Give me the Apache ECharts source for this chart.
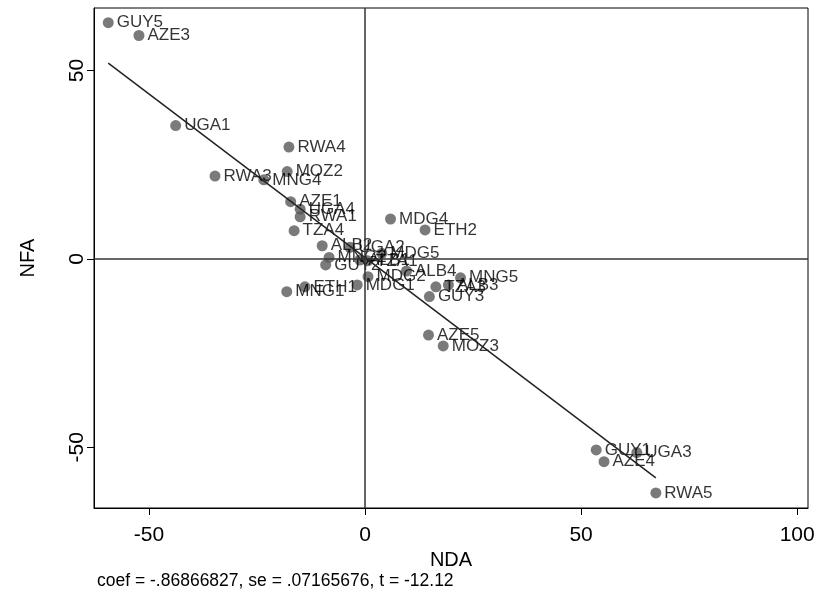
<!DOCTYPE html>
<html><head><meta charset="utf-8">
<script src="https://cdn.jsdelivr.net/npm/echarts@6/dist/echarts.min.js"></script>
<style>html,body{margin:0;padding:0;background:#fff}#c{width:819px;height:597px}</style>
</head><body><div id="c"></div>
<script>
const labels = ["GUY5","AZE3","UGA1","RWA4","MOZ2","RWA3","MNG4","AZE1","UGA4","RWA1","TZA4","MDG4","ETH2","ALB2","UGA2","MNG2","GUY2","ALB1","TZA1","MDG5","ALB4","MDG2","MDG1","ETH1","MNG1","GUY3","TZA3","ALB3","MNG5","AZE5","MOZ3","GUY1","AZE4","UGA3","RWA5"];
const nda = [-59.4,-52.3,-43.8,-17.6,-18.0,-34.7,-23.4,-17.2,-15.0,-15.0,-16.4,5.9,13.9,-9.9,-3.5,-8.3,-9.1,-1.2,0.6,3.9,9.6,0.7,-1.8,-13.9,-18.1,14.9,16.4,19.3,22.1,14.7,18.1,53.5,55.3,62.9,67.3];
const nfa = [62.7,59.3,35.4,29.7,23.2,22.0,21.0,15.2,13.2,11.2,7.5,10.6,7.7,3.5,3.1,0.4,-1.6,-0.3,-0.5,1.5,-3.2,-4.7,-6.9,-7.4,-8.7,-10.0,-7.4,-6.9,-5.0,-20.2,-23.1,-50.7,-53.8,-51.4,-62.1];
const xTicks = [-50, 0, 50, 100];
const yTicks = [-50, 0, 50];
const coef = -0.86866827, intercept = 0.35;
const noteText = "coef = -.86866827, se = .07165676, t = -12.12";

const pts = nda.map((x, i) => [x, nfa[i], labels[i]]);
const xmin = Math.min(...nda), xmax = Math.max(...nda);
const fit = [[xmin, intercept + coef * xmin], [xmax, intercept + coef * xmax]];
const FONT = "Liberation Sans, Arial, sans-serif";

const chart = echarts.init(document.getElementById('c'));
chart.setOption({
  animation: false,
  grid: {left: 94, right: 11, top: 8, bottom: 89, show: true, borderColor: '#000', borderWidth: 1, containLabel: false},
  xAxis: {
    type: 'value', min: -62.7, max: 102.5,
    name: 'NDA', nameLocation: 'middle', nameGap: 37,
    nameTextStyle: {fontFamily: FONT, fontSize: 20, color: '#000'},
    axisLine: {show: true, onZero: false, lineStyle: {color: '#000', width: 1}},
    axisTick: {show: true, length: 7, customValues: xTicks, lineStyle: {color: '#000'}},
    axisLabel: {customValues: xTicks, fontFamily: FONT, fontSize: 21, color: '#000', margin: 17},
    splitLine: {show: false}
  },
  yAxis: {
    type: 'value', min: -66.1, max: 66.6,
    name: 'NFA', nameLocation: 'middle', nameGap: 56, nameRotate: 90,
    nameTextStyle: {fontFamily: FONT, fontSize: 20, color: '#000'},
    axisLine: {show: true, onZero: false, lineStyle: {color: '#000', width: 1}},
    axisTick: {show: true, length: 7, customValues: yTicks, lineStyle: {color: '#000'}},
    axisLabel: {customValues: yTicks, rotate: 90, fontFamily: FONT, fontSize: 21, color: '#000', margin: 6},
    splitLine: {show: false}
  },
  series: [
    {
      type: 'scatter', data: pts, symbolSize: 11,
      itemStyle: {color: '#595959'},
      label: {show: true, position: 'right', distance: 3, formatter: p => p.data[2],
        fontFamily: FONT, fontSize: 17, color: '#000'},
      markLine: {
        silent: true, symbol: 'none', label: {show: false},
        lineStyle: {color: '#333', width: 1.5, type: 'solid'},
        data: [{xAxis: 0}, {yAxis: 0}]
      },
      z: 3
    },
    {
      type: 'line', data: fit, symbol: 'none',
      lineStyle: {color: '#222', width: 1.5}, z: 4
    }
  ],
  graphic: [{
    type: 'text', left: 97, top: 572,
    style: {text: noteText, fontFamily: FONT, fontSize: 17.5, fill: '#000'}
  }]
});
</script></body></html>
